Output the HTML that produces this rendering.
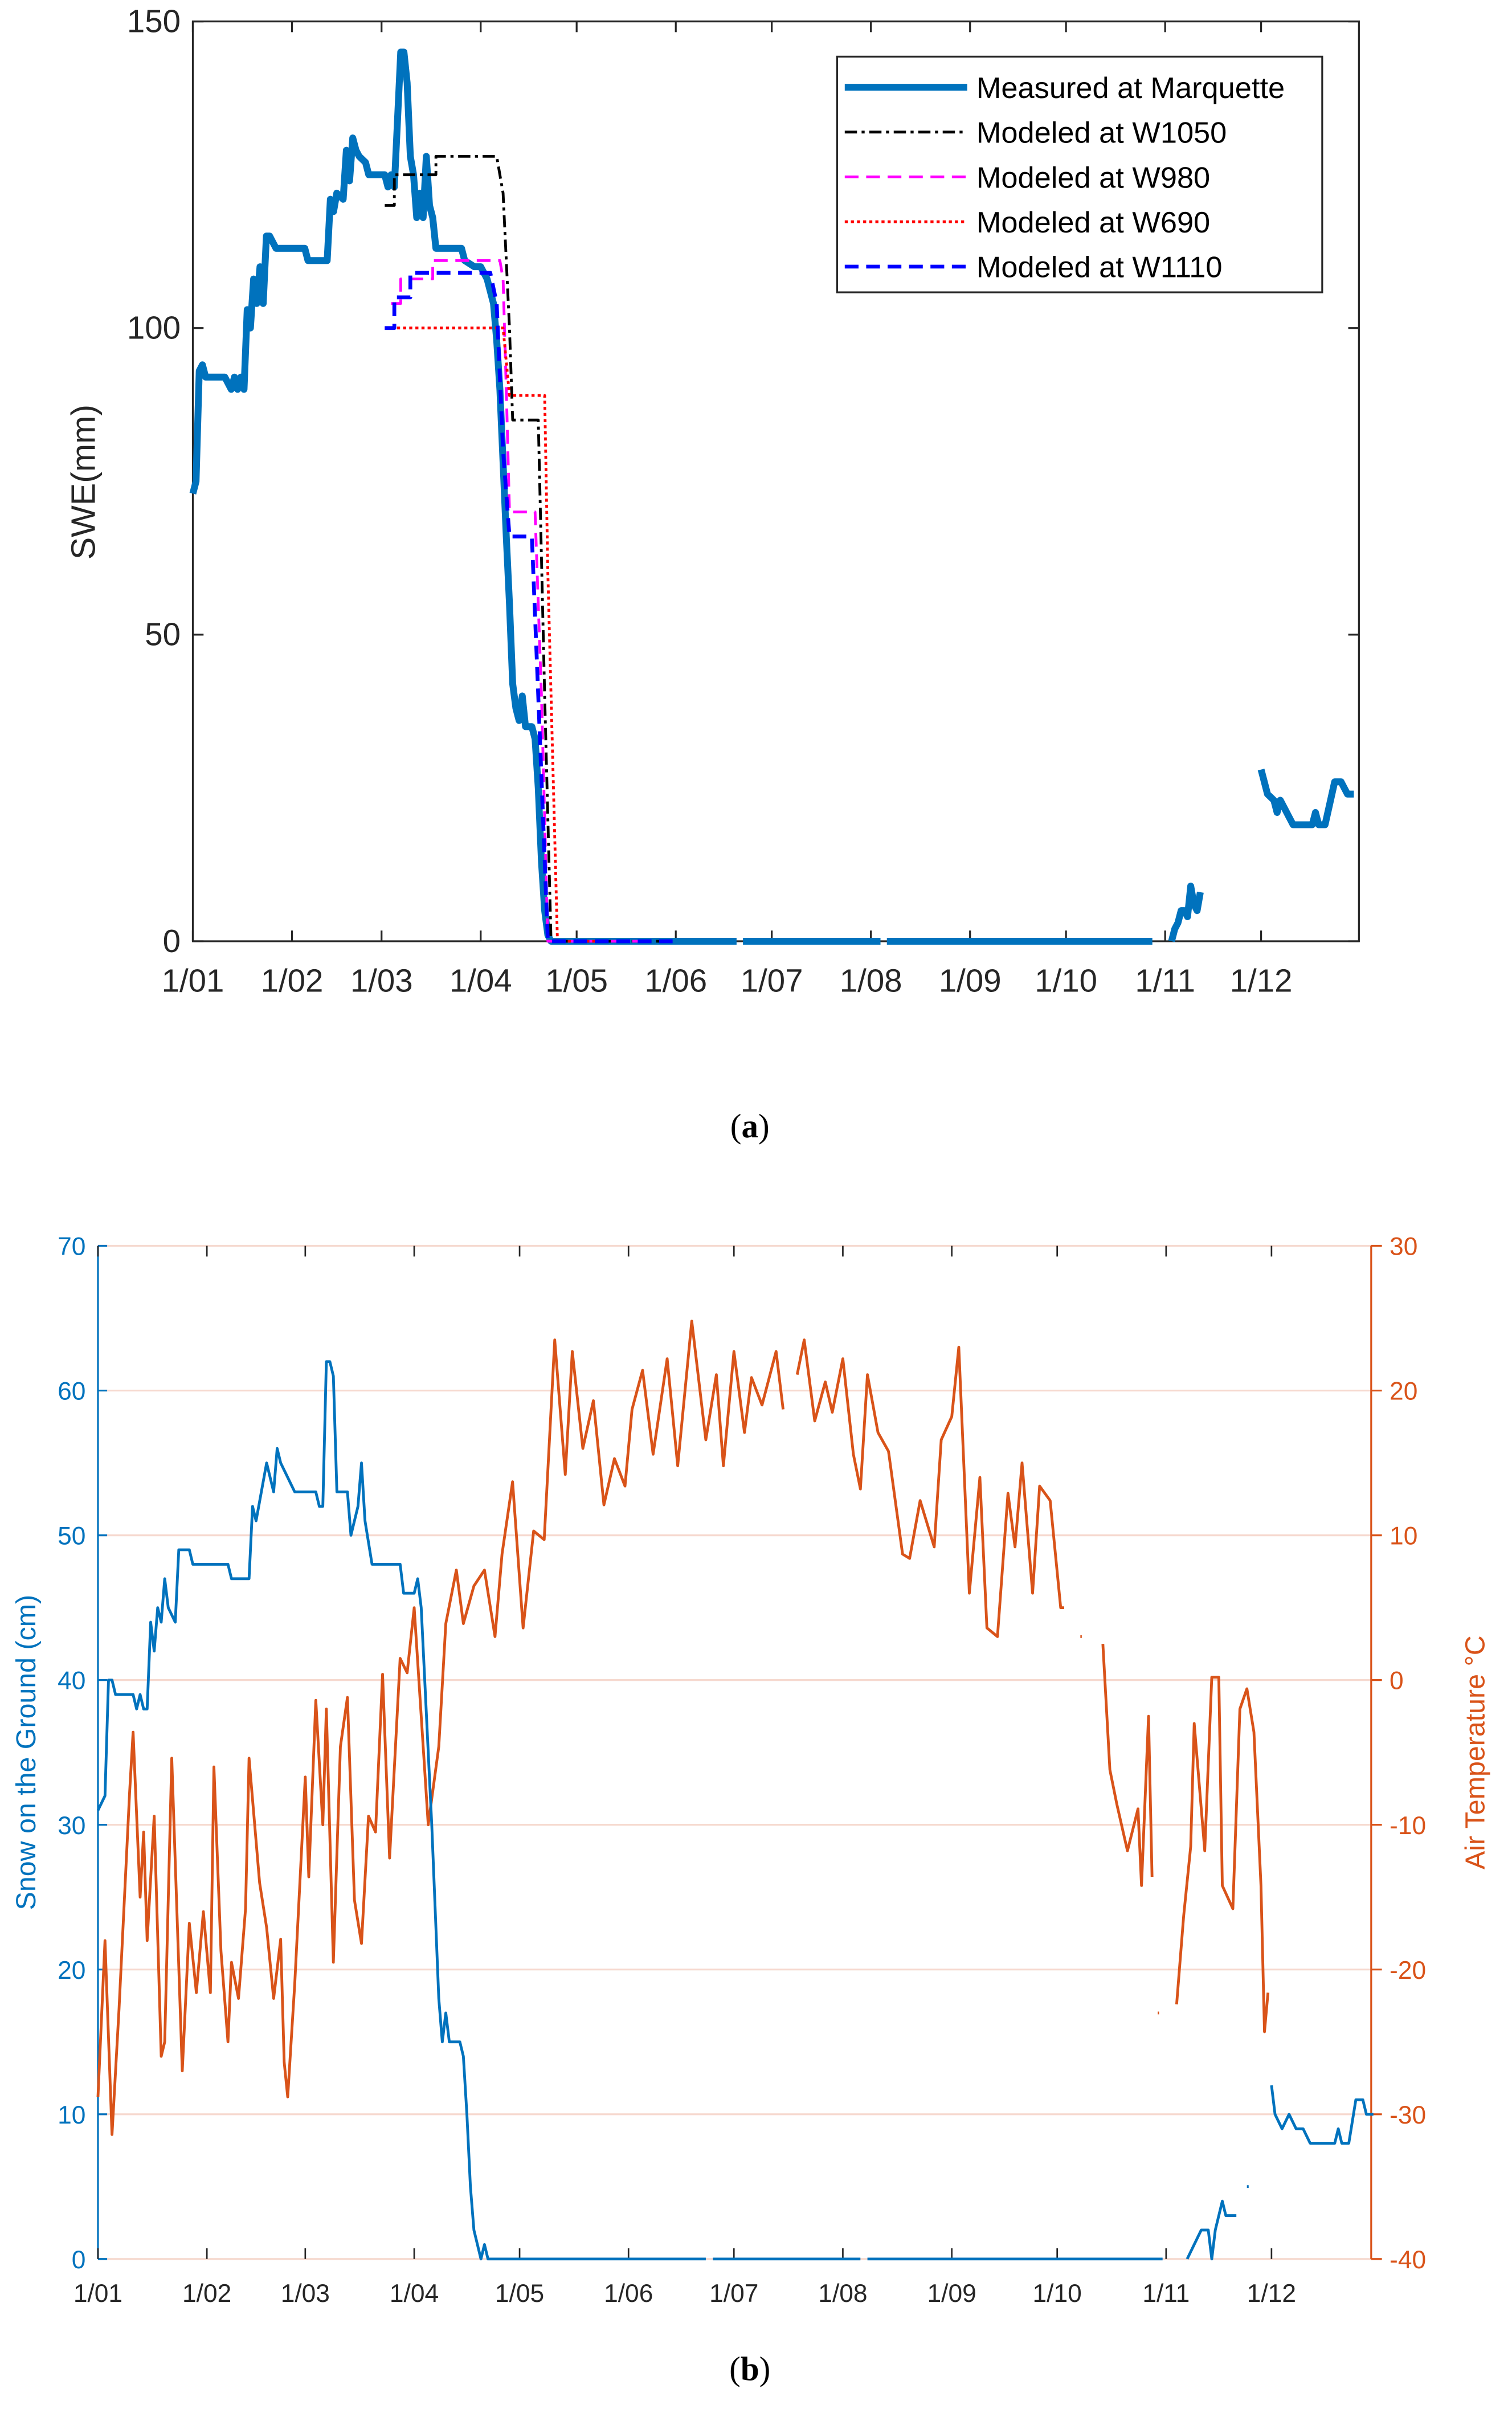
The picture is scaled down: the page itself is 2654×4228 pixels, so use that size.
<!DOCTYPE html>
<html><head><meta charset="utf-8"><style>
html,body{margin:0;padding:0;background:#fff;}
svg{display:block;font-family:"Liberation Sans",sans-serif;}
</style></head><body>
<svg id="fig" width="2654" height="4228" viewBox="0 0 988 1574" xmlns="http://www.w3.org/2000/svg">
<g id="chartA"></g>
<g id="chartB"></g>
<text x="490" y="743" text-anchor="middle" font-family="Liberation Serif,serif" font-size="22">(<tspan font-weight="bold">a</tspan>)</text>
<text x="490" y="1555" text-anchor="middle" font-family="Liberation Serif,serif" font-size="22">(<tspan font-weight="bold">b</tspan>)</text>
</svg>
<script>
const monthLabels=["1/01","1/02","1/03","1/04","1/05","1/06","1/07","1/08","1/09","1/10","1/11","1/12"];
const monthDays=[0,31,59,90,120,151,181,212,243,273,304,334];
const sweTicks=[0,50,100,150];
const measDays=[0,1,2,3,4,10,12,13,14,15,16,17,18,19,20,21,22,23,24,26,35,36,42,43,44,45,47,48,49,50,51,52,54,55,60,61,62,63,64,65,66,67,68,69,70,71,72,73,74,75,76,84,85,88,90,91,92,94,95,96,97,98,99,100,101,102,103,104,106,107,108,109,110,111,112,170,171,172,215,216,217,300,301,306,307,308,309,310,311,312,313,314,315,316,334,336,338,339,340,342,344,350,351,352,354,357,359,361,363];
const measVals=[73,75,93,94,92,92,90,92,90,92,90,103,100,108,104,110,104,115,115,113,113,111,111,121,119,122,121,129,124,131,129,128,127,125,125,123,125,123,134,145,145,140,128,125,118,122,118,128,120,118,113,113,111,110,110,109,108,104,98,90,78,66,55,42,38,36,40,35,35,33,25,13,5,1,0,0,null,0,0,null,0,0,null,0,2,3,5,5,4,9,6,5,8,null,28,24,23,21,23,21,19,19,21,19,19,26,26,24,24];
const w1050Days=[60,63,63,76,76,95,97,99,100,108,110,112,150];
const w1050Vals=[120,120,125,125,128,128,122,100,85,85,40,0,0];
const w980Days=[62,65,65,75,75,96,97,98,99,107,109,111,140];
const w980Vals=[104,104,108,108,111,111,108,90,70,70,40,0,0];
const w690Days=[60,63,95,97,99,100,110,111,114,130];
const w690Vals=[100,100,100,100,89,89,89,60,0,0];
const w1110Days=[60,63,63,68,68,75,75,93,95,97,99,106,108,111,150];
const w1110Vals=[100,100,105,105,109,109,109,109,104,80,66,66,40,0,0];

const snowTicks=[0,10,20,30,40,50,60,70];
const tempTicks=[-40,-30,-20,-10,0,10,20,30];
const snowDays=[0,2,3,4,5,10,11,12,13,14,15,16,17,18,19,20,22,23,26,27,37,38,43,44,45,48,50,51,52,54,56,62,63,64,65,66,67,68,71,72,74,75,76,78,86,87,90,91,92,93,94,95,96,97,98,99,100,103,104,105,106,107,109,110,111,173,174,175,217,218,219,303,304,310,312,314,316,317,318,320,321,324,325,327,327.5,328,334,335,337,339,341,343,345,352,353,354,356,358,360,361,363];
const snowVals=[31,32,40,40,39,39,38,39,38,38,44,42,45,44,47,45,44,49,49,48,48,47,47,52,51,55,53,56,55,54,53,53,52,52,62,62,61,53,53,50,52,55,51,48,48,46,46,47,45,40,35,30,24,18,15,17,15,15,14,10,5,2,0,1,0,0,null,0,0,null,0,0,null,0,1,2,2,0,2,4,3,3,null,5,5,null,12,10,9,10,9,9,8,8,9,8,8,11,11,10,10];
const tempDays=[0,2,4,6,9,10,12,13,14,16,18,19,21,24,26,28,30,32,33,35,37,38,40,42,43,46,48,50,52,53,54,56,59,60,62,64,65,67,69,71,73,75,77,79,81,83,86,88,90,94,97,99,102,104,107,110,113,115,118,121,124,127,130,133,135,138,141,144,147,150,152,155,158,162,165,169,173,176,178,181,184,186,189,193,195,196,199,201,204,207,209,212,215,217,219,222,225,229,231,234,238,240,243,245,248,251,253,256,259,261,263,266,268,271,274,275,279,279.6,280,283,286,288,290,293,296,297,299,300,301,301.6,302,305,307,309,311,312,315,317,319,320,323,325,327,329,331,332,333];
const tempVals=[-28.8,-18,-31.4,-22.7,-7.8,-3.6,-15,-10.5,-18,-9.4,-26,-25,-5.4,-27,-16.8,-21.6,-16,-21.6,-6,-18.7,-25,-19.5,-22,-15.8,-5.4,-14,-17.1,-22,-17.9,-26.4,-28.8,-21,-6.7,-13.6,-1.4,-10,-2,-19.5,-4.6,-1.2,-15.2,-18.2,-9.4,-10.5,0.4,-12.3,1.5,0.5,5,-10,-4.6,3.9,7.6,3.9,6.5,7.6,3,8.7,13.7,3.6,10.3,9.7,23.5,14.2,22.7,16,19.3,12.1,15.3,13.4,18.7,21.4,15.6,22.2,14.8,24.8,16.6,21.1,14.8,22.7,17.1,20.9,19,22.7,18.7,null,21.1,23.5,17.9,20.6,18.5,22.2,15.6,13.2,21.1,17.1,15.8,8.7,8.4,12.4,9.2,16.6,18.2,23,6,14,3.6,3,12.9,9.2,15,6,13.4,12.4,5,5,null,3,3,null,2.5,-6.2,-8.6,-11.8,-8.9,-14.2,-2.5,-13.6,null,-23,-23,null,-22.4,-16.3,-11.5,-3,-11.8,0.2,0.2,-14.2,-15.8,-2,-0.6,-3.6,-14.2,-24.3,-21.6,-12];

const NS="http://www.w3.org/2000/svg";
function mk(parent,tag,attrs){const e=document.createElementNS(NS,tag);for(const k in attrs)e.setAttribute(k,attrs[k]);parent.appendChild(e);return e;}
function pathFrom(days,vals,xf,yf){let d="",pen=false;for(let i=0;i<days.length;i++){if(vals[i]===null){pen=false;continue;}d+=(pen?"L":"M")+xf(days[i]).toFixed(2)+","+yf(vals[i]).toFixed(2);pen=true;}return d;}

// ---- Chart A ----
(function(){
const g=document.getElementById('chartA');
const L=126,R=888,T=14,B=615;
const x=d=>L+d*2.09;
const y=v=>B-(v/150)*(B-T);
let e=mk(g,'rect',{x:L,y:T,width:R-L,height:B-T,fill:'none',stroke:'#262626','stroke-width':1.2});

sweTicks.forEach(v=>{
 mk(g,'line',{x1:L,x2:L+7,y1:y(v),y2:y(v),stroke:'#262626','stroke-width':1.2});
 mk(g,'line',{x1:R,x2:R-7,y1:y(v),y2:y(v),stroke:'#262626','stroke-width':1.2});
 const t=mk(g,'text',{x:L-8,y:y(v)+7,'text-anchor':'end','font-size':21,fill:'#262626'});t.textContent=v;
 
});
monthDays.forEach((d,i)=>{
 mk(g,'line',{x1:x(d),x2:x(d),y1:B,y2:B-7,stroke:'#262626','stroke-width':1.2});
 mk(g,'line',{x1:x(d),x2:x(d),y1:T,y2:T+7,stroke:'#262626','stroke-width':1.2});
 const t=mk(g,'text',{x:x(d),y:B+33,'text-anchor':'middle','font-size':21,fill:'#262626'});t.textContent=monthLabels[i];
 
});
const yl=mk(g,'text',{x:0,y:0,transform:'translate(62,315) rotate(-90)','text-anchor':'middle','font-size':22,fill:'#262626'});yl.textContent='SWE(mm)';

const series=[
 [measDays,measVals,'#0072BD',4.5,'none','measured-marquette-line'],
 [w1050Days,w1050Vals,'#000',1.8,'8 3 2 3','w1050-line'],
 [w980Days,w980Vals,'#ff00ff',1.8,'9 5','w980-line'],
 [w690Days,w690Vals,'#ff0000',1.8,'2 2','w690-line'],
 [w1110Days,w1110Vals,'#0000ff',2.5,'9 5','w1110-line']];
series.forEach(s=>{
 const p=mk(g,'path',{d:pathFrom(s[0],s[1],x,y),fill:'none',stroke:s[2],'stroke-width':s[3],'stroke-dasharray':s[4],'stroke-linejoin':'round'});
 
});
const lg=mk(g,'g',{});
mk(lg,'rect',{x:547,y:37,width:317,height:154,fill:'#fff',stroke:'#262626','stroke-width':1.2});
const names=['Measured at Marquette','Modeled at W1050','Modeled at W980','Modeled at W690','Modeled at W1110'];
names.forEach((n,i)=>{
 const yy=57+i*29.3;const s=series[i];
 const ln=mk(lg,'line',{x1:552,x2:632,y1:yy,y2:yy,stroke:s[2],'stroke-width':s[3],'stroke-dasharray':s[4]});
 
 const t=mk(lg,'text',{x:638,y:yy+7,'font-size':19.5,fill:'#000'});t.textContent=n;
 
});
})();

// ---- Chart B ----
(function(){
const g=document.getElementById('chartB');
const L=64,R=896,T=814,B=1476;
const x=d=>L+d*2.296;
const ys=v=>B-(v/70)*(B-T);
const yt=v=>B-((v+40)/70)*(B-T);
tempTicks.forEach(v=>{
 const l=mk(g,'line',{x1:L,x2:R,y1:yt(v),y2:yt(v),stroke:'#f6d9cf','stroke-width':1.2});
 
});
mk(g,'line',{x1:L,x2:L,y1:T,y2:B,stroke:'#0072BD','stroke-width':1.2});
mk(g,'line',{x1:R,x2:R,y1:T,y2:B,stroke:'#D95319','stroke-width':1.2});
snowTicks.forEach(v=>{
 mk(g,'line',{x1:L,x2:L+6,y1:ys(v),y2:ys(v),stroke:'#0072BD','stroke-width':1.2});
 const t=mk(g,'text',{x:L-8,y:ys(v)+6,'text-anchor':'end','font-size':16.5,fill:'#0072BD'});t.textContent=v;
 
});
tempTicks.forEach(v=>{
 mk(g,'line',{x1:R,x2:R+7,y1:yt(v),y2:yt(v),stroke:'#D95319','stroke-width':1.2});
 const t=mk(g,'text',{x:R+12,y:yt(v)+6,'text-anchor':'start','font-size':16.5,fill:'#D95319'});t.textContent=v;
 
});
monthDays.forEach((d,i)=>{
 mk(g,'line',{x1:x(d),x2:x(d),y1:B,y2:B-7,stroke:'#262626','stroke-width':1});
 mk(g,'line',{x1:x(d),x2:x(d),y1:T,y2:T+7,stroke:'#262626','stroke-width':1});
 const t=mk(g,'text',{x:x(d),y:B+28,'text-anchor':'middle','font-size':16.5,fill:'#262626'});t.textContent=monthLabels[i];
 
});
const yl=mk(g,'text',{x:0,y:0,transform:'translate(23,1145) rotate(-90)','text-anchor':'middle','font-size':18,fill:'#0072BD'});yl.textContent='Snow on the Ground (cm)';

const yr=mk(g,'text',{x:0,y:0,transform:'translate(970,1145) rotate(-90)','text-anchor':'middle','font-size':18,fill:'#D95319'});yr.textContent='Air Temperature °C';

const tp=mk(g,'path',{d:pathFrom(tempDays,tempVals,x,yt),fill:'none',stroke:'#D95319','stroke-width':1.8,'stroke-linejoin':'round'});

const sp=mk(g,'path',{d:pathFrom(snowDays,snowVals,x,ys),fill:'none',stroke:'#0072BD','stroke-width':1.8,'stroke-linejoin':'round'});

})();
</script>
</body></html>
